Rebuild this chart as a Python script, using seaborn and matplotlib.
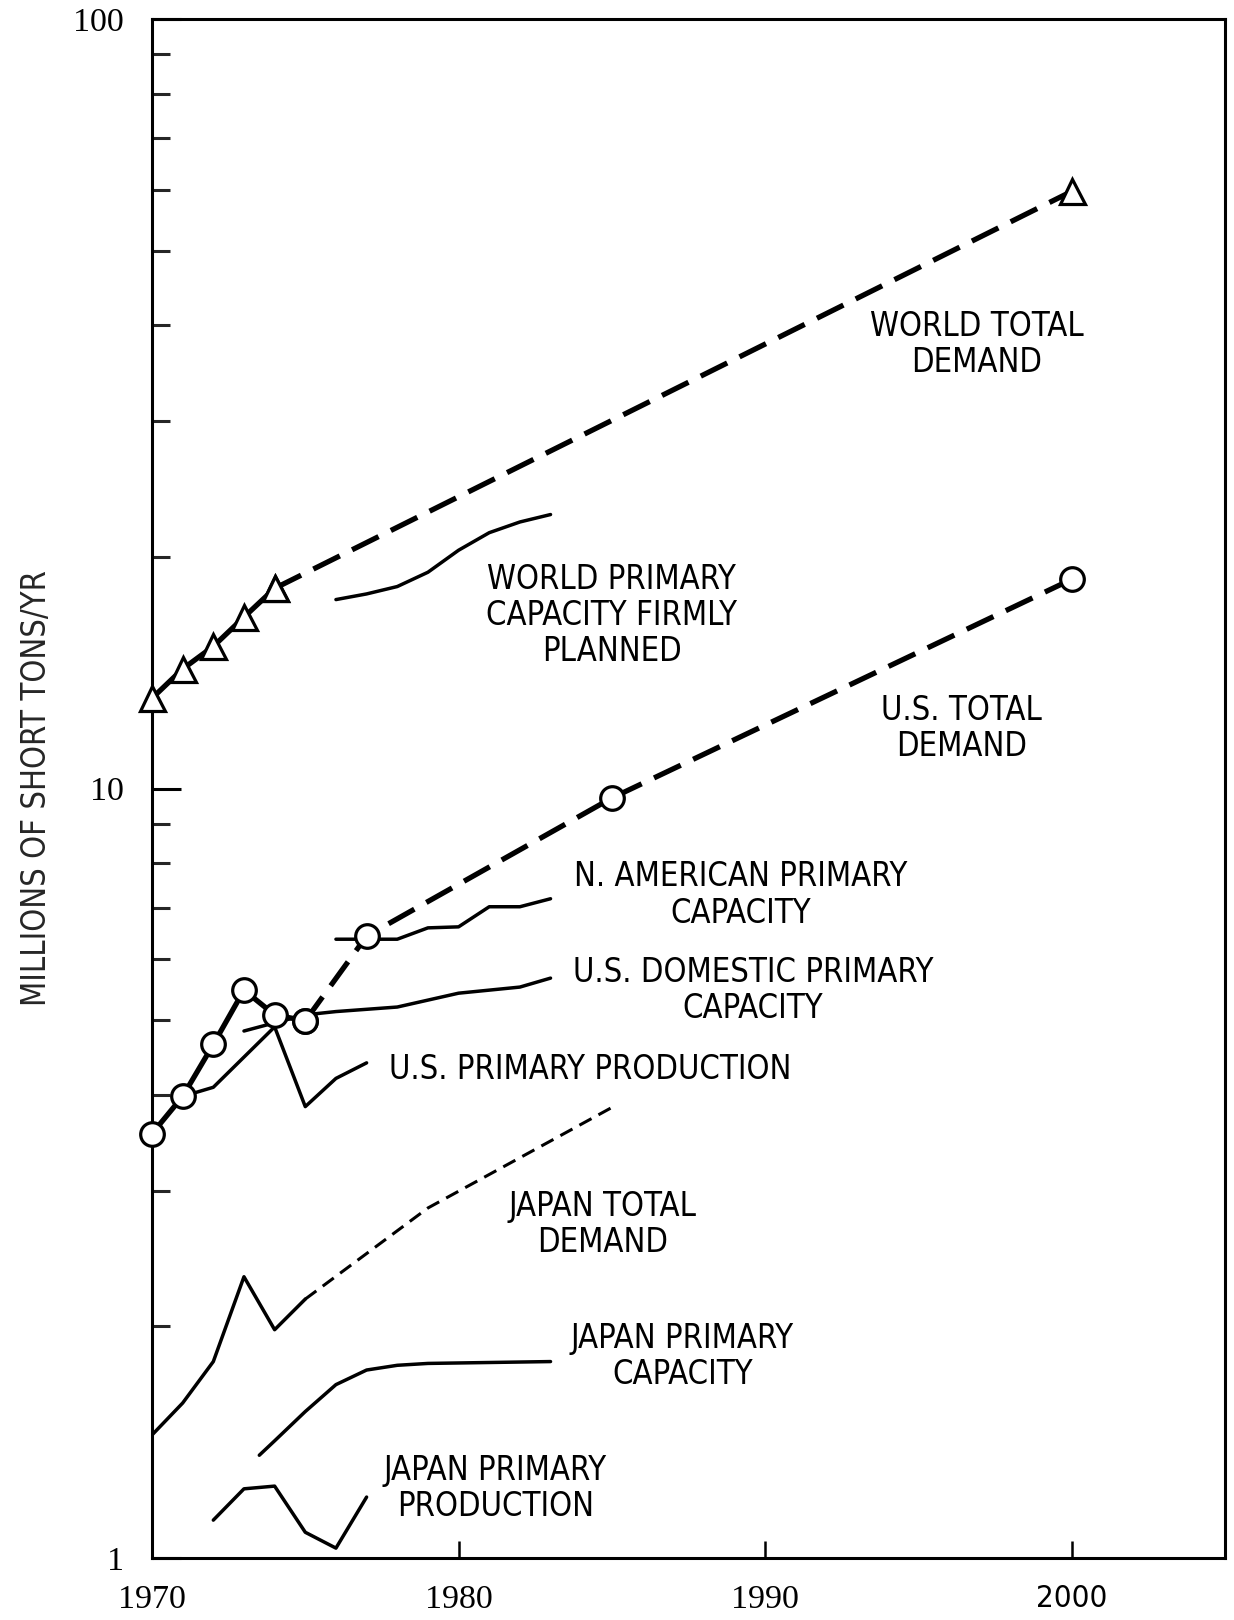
import glob
import os
import matplotlib
matplotlib.use("Agg")
import matplotlib.pyplot as plt
import seaborn as sns
from matplotlib import font_manager as fm
from matplotlib.ticker import LogLocator, NullFormatter

# ---- aluminum supply / demand, millions of short tons per year ----
world_hist_years = [1970, 1971, 1972, 1973, 1974]
world_hist_demand = [13.1, 14.3, 15.3, 16.7, 18.2]
world_proj_years = [1974, 2000]
world_proj_demand = [18.2, 59.7]

world_cap_years = [1976, 1977, 1978, 1979, 1980, 1981, 1982, 1983]
world_cap = [17.6, 17.9, 18.3, 19.1, 20.4, 21.5, 22.2, 22.7]

us_hist_years = [1970, 1971, 1972, 1973, 1974, 1975]
us_hist_demand = [3.56, 3.98, 4.65, 5.47, 5.08, 4.99]
us_proj_years = [1975, 1977, 1985, 2000]
us_proj_demand = [4.99, 6.43, 9.72, 18.7]

na_cap_years = [1976, 1977, 1978, 1979, 1980, 1981, 1982, 1983]
na_cap = [6.37, 6.37, 6.37, 6.59, 6.61, 7.02, 7.02, 7.19]

us_dom_years = [1973, 1974, 1975, 1976, 1978, 1980, 1982, 1983]
us_dom_cap = [4.84, 4.96, 5.08, 5.13, 5.20, 5.42, 5.52, 5.67]

us_prod_years = [1970, 1971, 1972, 1974, 1975, 1976, 1977]
us_prod = [3.56, 3.98, 4.09, 4.90, 3.86, 4.20, 4.40]

jp_hist_years = [1970, 1971, 1972, 1973, 1974, 1975]
jp_hist_demand = [1.445, 1.59, 1.80, 2.32, 1.98, 2.17]
jp_proj_years = [1975, 1979, 1985]
jp_proj_demand = [2.17, 2.85, 3.85]

jp_cap_years = [1973.5, 1974, 1975, 1976, 1977, 1978, 1979, 1983]
jp_cap = [1.36, 1.42, 1.55, 1.68, 1.755, 1.78, 1.79, 1.80]

jp_prod_years = [1972, 1973, 1974, 1975, 1976, 1977]
jp_prod = [1.12, 1.23, 1.24, 1.08, 1.03, 1.20]

x_ticks = [1970, 1980, 1990, 2000]
x_tick_labels = ["1970", "1980", "1990", "2000"]
y_ticks = [1, 10, 100]
y_tick_labels = ["1", "10", "100"]

series_labels = [
    ("WORLD TOTAL\nDEMAND", 1996.9, 37.8),
    ("WORLD PRIMARY\nCAPACITY FIRMLY\nPLANNED", 1985.0, 16.8),
    ("U.S. TOTAL\nDEMAND", 1996.4, 11.97),
    ("N. AMERICAN PRIMARY\nCAPACITY", 1989.2, 7.27),
    ("U.S. DOMESTIC PRIMARY\nCAPACITY", 1989.6, 5.46),
    ("U.S. PRIMARY PRODUCTION", 1984.3, 4.31),
    ("JAPAN TOTAL\nDEMAND", 1984.7, 2.71),
    ("JAPAN PRIMARY\nCAPACITY", 1987.3, 1.827),
    ("JAPAN PRIMARY\nPRODUCTION", 1981.2, 1.23),
]


# ---- fonts: a narrow sans for annotations, a serif for most tick labels ----
def find_narrow_sans():
    preferred = ["LiberationSansNarrow-Regular.ttf", "DejaVuSansCondensed.ttf"]
    paths = [f.fname for f in fm.fontManager.ttflist]
    paths += glob.glob("/usr/share/fonts/**/*.ttf", recursive=True)
    paths += glob.glob("/usr/local/share/fonts/**/*.ttf", recursive=True)
    by_name = {os.path.basename(p): p for p in paths}
    for name in preferred:
        if name in by_name:
            return by_name[name]
    return None


narrow_path = find_narrow_sans()


def sans_font(size):
    if narrow_path:
        return fm.FontProperties(fname=narrow_path, size=size)
    return fm.FontProperties(family="DejaVu Sans", stretch="condensed", size=size)


available = {f.name for f in fm.fontManager.ttflist}
serif_family = "Liberation Serif" if "Liberation Serif" in available else "DejaVu Serif"

sns.set_style("white")
plt.rcParams["font.family"] = ["DejaVu Sans"]

fig = plt.figure(figsize=(12.34, 16.2), dpi=100)
ax = fig.add_axes([152 / 1234, 62 / 1620, 1073 / 1234, 1539 / 1620])

K = "black"
thick = 3.8
thin = 2.5
long_dash = (0, (5.6, 2.6))
short_dash = (0, (4.5, 2.6))

# capacity / production lines
sns.lineplot(x=world_cap_years, y=world_cap, ax=ax, color=K, lw=thin, zorder=2)
sns.lineplot(x=na_cap_years, y=na_cap, ax=ax, color=K, lw=thin, zorder=2)
sns.lineplot(x=us_dom_years, y=us_dom_cap, ax=ax, color=K, lw=thin, zorder=2)
sns.lineplot(x=us_prod_years, y=us_prod, ax=ax, color=K, lw=thin, zorder=2)
sns.lineplot(x=jp_cap_years, y=jp_cap, ax=ax, color=K, lw=thin, zorder=2)
sns.lineplot(x=jp_prod_years, y=jp_prod, ax=ax, color=K, lw=thin, zorder=2)

# Japan demand: history solid, projection short dashes
sns.lineplot(x=jp_hist_years, y=jp_hist_demand, ax=ax, color=K, lw=thin, zorder=2)
sns.lineplot(x=jp_proj_years, y=jp_proj_demand, ax=ax, color=K, lw=2.2,
             linestyle=short_dash, zorder=2)

# world demand (triangles) and U.S. demand (circles)
mk = dict(markerfacecolor="white", markeredgecolor=K, markeredgewidth=2.3,
          clip_on=False)
sns.lineplot(x=world_proj_years, y=world_proj_demand, ax=ax, color=K, lw=thick,
             linestyle=long_dash, marker="^", markersize=18, zorder=4, **mk)
sns.lineplot(x=world_hist_years, y=world_hist_demand, ax=ax, color=K, lw=thick,
             marker="^", markersize=18, zorder=5, **mk)
sns.lineplot(x=us_proj_years, y=us_proj_demand, ax=ax, color=K, lw=thick,
             linestyle=long_dash, marker="o", markersize=17, zorder=4, **mk)
sns.lineplot(x=us_hist_years, y=us_hist_demand, ax=ax, color=K, lw=thick,
             marker="o", markersize=17, zorder=5, **mk)

for text, x, y in series_labels:
    ax.text(x, y, text, ha="center", va="center", multialignment="center",
            linespacing=1.12, color=K, fontproperties=sans_font(23.5))

# ---- axes ----
ax.set_xlim(1970, 2005)
ax.set_yscale("log")
ax.set_ylim(1, 100)
ax.set_xticks(x_ticks)
ax.set_xticklabels(x_tick_labels)
ax.set_yticks(y_ticks)
ax.set_yticklabels(y_tick_labels)
ax.yaxis.set_minor_locator(LogLocator(base=10, subs=[2, 3, 4, 5, 6, 7, 8, 9]))
ax.yaxis.set_minor_formatter(NullFormatter())

for s in ax.spines.values():
    s.set_visible(True)
    s.set_linewidth(2.2)
    s.set_color(K)

ax.tick_params(axis="x", which="major", direction="in", length=12, width=1.8,
               pad=19, bottom=True, top=False, colors=K)
ax.tick_params(axis="y", which="major", direction="in", length=21, width=2.2,
               pad=20, left=True, right=False, colors=K)
ax.tick_params(axis="y", which="minor", direction="in", length=13, width=2.2,
               left=True, right=False)

for lab in ax.get_xticklabels():
    if lab.get_text() == "2000":
        lab.set_fontproperties(sans_font(22.5))
    else:
        lab.set_fontproperties(fm.FontProperties(family=serif_family, size=24.5))
for lab in ax.get_yticklabels():
    lab.set_fontproperties(fm.FontProperties(family=serif_family, size=24.5))

ax.set_xlabel("")
ax.set_ylabel("MILLIONS OF SHORT TONS/YR", va="center",
              fontproperties=sans_font(23.5))
ax.yaxis.set_label_coords((37 - 152) / 1073, 0.5)

fig.savefig("out.png", dpi=100, facecolor="white")
